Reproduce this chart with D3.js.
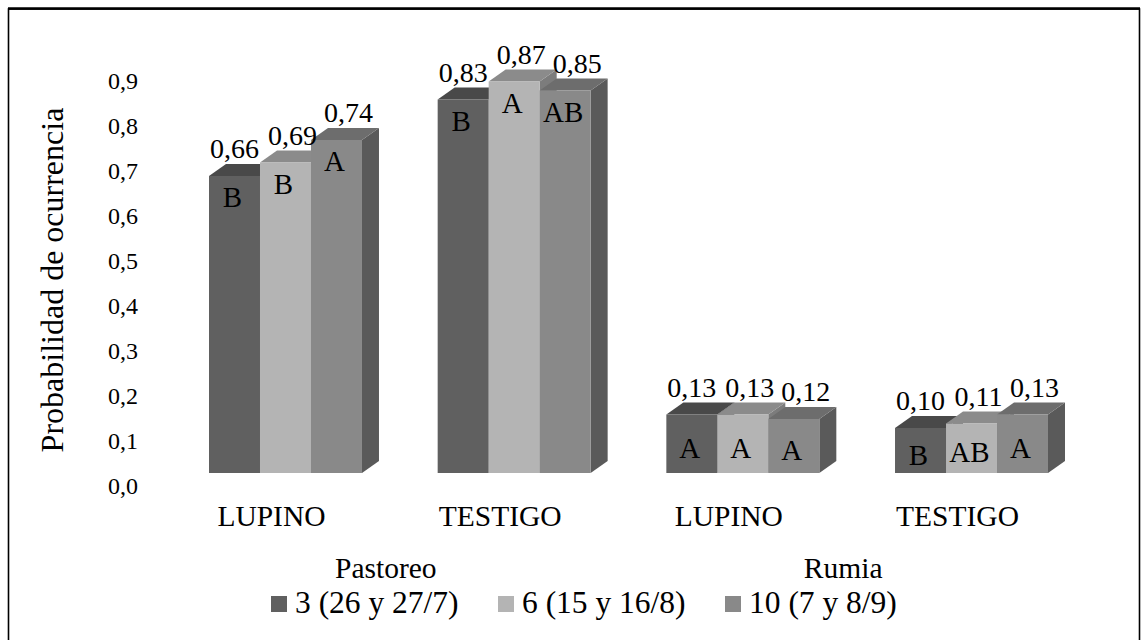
<!DOCTYPE html>
<html>
<head>
<meta charset="utf-8">
<script src="https://cdn.jsdelivr.net/npm/d3@7"></script>
<style>
  html, body { margin: 0; padding: 0; background: #fff; }
  svg text { font-family: "Liberation Serif", "Times New Roman", Times, "DejaVu Serif", serif; }
</style>
</head>
<body>
<svg id="chart" width="1147" height="640"></svg>
<script>
// Categories along the x axis, the two management groups and the three sampling dates
const categories = ["LUPINO", "TESTIGO", "LUPINO", "TESTIGO"];
const groupNames = ["Pastoreo", "Rumia"];
const seriesNames = ["3 (26 y 27/7)", "6 (15 y 16/8)", "10 (7 y 8/9)"];

// Probability of occurrence per category, one array per sampling date
const date3 = [0.66, 0.83, 0.13, 0.10];
const date6 = [0.69, 0.87, 0.13, 0.11];
const date10 = [0.74, 0.85, 0.12, 0.13];

// Significance letters written inside each bar
const letters3 = ["B", "B", "A", "B"];
const letters6 = ["B", "A", "A", "AB"];
const letters10 = ["A", "AB", "A", "A"];

const yTicks = [0, 0.1, 0.2, 0.3, 0.4, 0.5, 0.6, 0.7, 0.8, 0.9];

// Face colours for each series: front, top, side
const palette = [
  { front: "#606060", top: "#494949", side: "#3f3f3f" },
  { front: "#b4b4b4", top: "#8b8b8b", side: "#7c7c7c" },
  { front: "#898989", top: "#6d6d6d", side: "#5a5a5a" }
];

const values = [date3, date6, date10];
const letters = [letters3, letters6, letters10];
const SERIF = "'Liberation Serif', 'Times New Roman', Times, 'DejaVu Serif', serif";

const svg = d3.select("#chart");

// Frame around the figure
svg.append("rect")
  .attr("x", 8.5).attr("y", 9)
  .attr("width", 1131).attr("height", 640)
  .attr("fill", "none").attr("stroke", "#000").attr("stroke-width", 1.6);
svg.append("line")
  .attr("x1", 8).attr("x2", 1140).attr("y1", 8.5).attr("y2", 8.5)
  .attr("stroke", "#000").attr("stroke-width", 2.5);

// Depth of the 3-D extrusion
const DX = 17, DY = 12;

const catIdx = d3.range(categories.length);
const x = d3.scaleBand().domain(catIdx).range([209, 1048]).paddingInner(0.331).paddingOuter(0);
const xs = d3.scaleBand().domain(d3.range(seriesNames.length)).range([0, x.bandwidth()]);
const y = d3.scaleLinear().domain([0, 0.9]).range([473, 68]);

const fmt2 = v => d3.format(".2f")(v).replace(".", ",");
const fmt1 = v => d3.format(".1f")(v).replace(".", ",");

// Value axis labels (no axis line, no ticks)
const yAxis = d3.axisLeft(y).tickValues(yTicks).tickFormat(fmt1).tickSize(0).tickPadding(0);
const yg = svg.append("g").attr("transform", "translate(138,20)").call(yAxis);
yg.attr("font-family", SERIF).attr("font-size", 24);
yg.select(".domain").remove();
yg.selectAll("text")
  .attr("font-family", SERIF)
  .attr("font-size", 24).attr("fill", "#000").attr("dy", 0).attr("x", 0);

// Axis title
svg.append("text")
  .attr("transform", "translate(63,280) rotate(-90)")
  .attr("text-anchor", "middle")
  .attr("font-family", SERIF)
  .attr("font-size", 32)
  .text("Probabilidad de ocurrencia");

// Bars drawn left to right so that nearer faces cover the ones behind
const bars = svg.append("g");
const labelShift = [0, 7, 12];
catIdx.forEach(c => {
  seriesNames.forEach((s, i) => {
    const v = values[i][c];
    const x0 = x(c) + xs(i), w = xs.bandwidth();
    const yt = y(v), yb = y(0);
    const col = palette[i];
    const g = bars.append("g");
    // side face
    g.append("path")
      .attr("d", `M${x0 + w},${yt} L${x0 + w + DX},${yt - DY} L${x0 + w + DX},${yb - DY} L${x0 + w},${yb} Z`)
      .attr("fill", col.side);
    // top face
    g.append("path")
      .attr("d", `M${x0},${yt} L${x0 + DX},${yt - DY} L${x0 + w + DX},${yt - DY} L${x0 + w},${yt} Z`)
      .attr("fill", col.top);
    // front face
    g.append("rect")
      .attr("x", x0).attr("y", yt).attr("width", w).attr("height", yb - yt)
      .attr("fill", col.front);
  });
});

// Value labels above the bars and letters inside them
const labels = svg.append("g").attr("font-family", SERIF);
catIdx.forEach(c => {
  seriesNames.forEach((s, i) => {
    const v = values[i][c];
    const x0 = x(c) + xs(i), w = xs.bandwidth();
    const cx = x0 + w / 2;
    const yt = y(v), yb = y(0);
    labels.append("text")
      .attr("x", cx + labelShift[i]).attr("y", yt - 18)
      .attr("text-anchor", "middle").attr("font-size", 28)
      .attr("font-family", SERIF)
      .text(fmt2(v));
    const tall = (yb - yt) > 100;
    labels.append("text")
      .attr("x", cx - 2).attr("y", tall ? yt + 31 : (yt + yb) / 2 + 14)
      .attr("text-anchor", "middle").attr("font-size", 29)
      .attr("font-family", SERIF)
      .text(letters[i][c]);
  });
});

// Category labels under each cluster
svg.append("g").selectAll("text").data(catIdx).join("text")
  .attr("x", c => x(c) + x.bandwidth() / 2 - 14)
  .attr("y", 526)
  .attr("text-anchor", "middle").attr("font-size", 29.5)
  .attr("font-family", SERIF)
  .text(c => categories[c]);

// Group names centred under each pair of categories
svg.append("g").selectAll("text").data(groupNames).join("text")
  .attr("x", (d, k) => (x(2 * k) + x(2 * k + 1)) / 2 + x.bandwidth() / 2 - 14)
  .attr("y", 578)
  .attr("text-anchor", "middle").attr("font-size", 29.5)
  .attr("font-family", SERIF)
  .text(d => d);

// Legend
const legendX = [271, 498, 725];
const lg = svg.append("g").selectAll("g").data(seriesNames).join("g")
  .attr("transform", (d, i) => `translate(${legendX[i]},596)`);
lg.append("rect").attr("width", 16).attr("height", 16).attr("fill", (d, i) => palette[i].front);
lg.append("text").attr("x", 24).attr("y", 17).attr("font-size", 31.5)
  .attr("font-family", SERIF).text(d => d);
</script>
</body>
</html>
